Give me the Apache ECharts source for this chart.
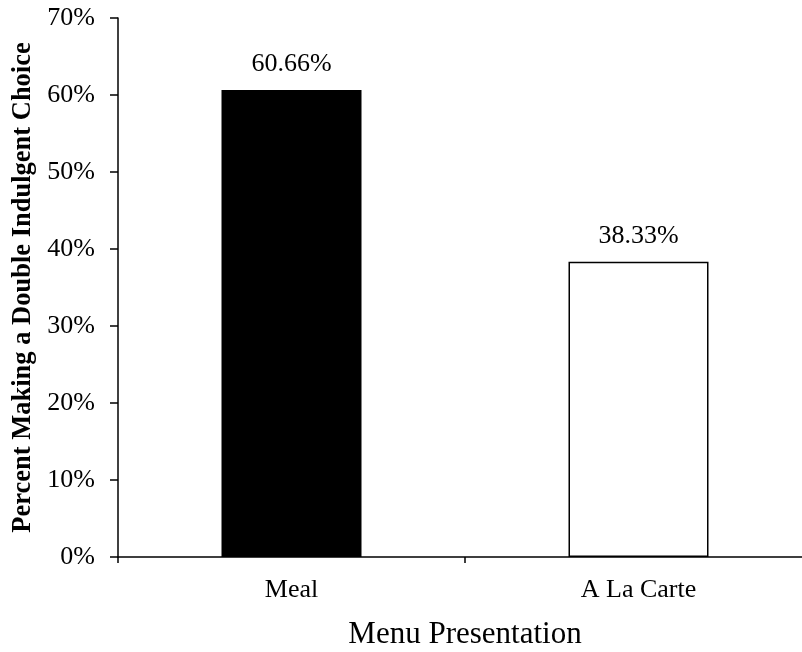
<!DOCTYPE html>
<html>
<head>
<meta charset="utf-8">
<script src="https://cdn.jsdelivr.net/npm/echarts@6/dist/echarts.min.js"></script>
<style>
  html, body { margin: 0; padding: 0; background: #fff; }
  #chart { width: 802px; height: 652px; }
</style>
</head>
<body>
<div id="chart"></div>
<script>
// data
const categories = ['Meal', 'A La Carte'];
const percents = [60.66, 38.33];
const barColors = ['#000000', '#ffffff'];
const yTicks = [0, 10, 20, 30, 40, 50, 60, 70];

const FONT = '"Liberation Serif", "Times New Roman", serif';

const chart = echarts.init(document.getElementById('chart'));

const option = {
  backgroundColor: '#fff',
  animation: false,
  grid: {
    left: 118, width: 694, top: 18, bottom: 95,
    containLabel: false, outerBoundsMode: 'none'
  },
  xAxis: {
    type: 'category',
    data: categories,
    name: 'Menu Presentation',
    nameLocation: 'middle',
    nameGap: 62,
    nameTextStyle: { fontFamily: FONT, fontSize: 31, color: '#000' },
    axisLine: { lineStyle: { color: '#000', width: 1.5 } },
    axisTick: { show: true, length: 6, lineStyle: { color: '#000', width: 1.5 } },
    axisLabel: { fontFamily: FONT, fontSize: 26, color: '#000', margin: 20 }
  },
  yAxis: {
    type: 'value',
    min: yTicks[0],
    max: yTicks[yTicks.length - 1],
    interval: 10,
    name: 'Percent Making a Double Indulgent Choice',
    nameLocation: 'middle',
    nameGap: 81,
    nameRotate: 90,
    nameTextStyle: { fontFamily: FONT, fontSize: 26.5, fontWeight: 'bold', color: '#000' },
    axisLine: { show: true, lineStyle: { color: '#000', width: 1.5 } },
    axisTick: { show: true, length: 8, lineStyle: { color: '#000', width: 1.5 } },
    splitLine: { show: false },
    axisLabel: { fontFamily: FONT, fontSize: 26, color: '#000', margin: 23, formatter: '{value}%' }
  },
  series: [{
    type: 'bar',
    barWidth: 140,
    data: percents.map((v, i) => ({
      value: v,
      itemStyle: { color: barColors[i], borderColor: '#000', borderWidth: 1.5 }
    })),
    label: {
      show: true,
      position: 'top',
      distance: 13,
      fontFamily: FONT,
      fontSize: 26,
      color: '#000',
      formatter: p => p.value.toFixed(2) + '%'
    }
  }]
};

chart.setOption(option);
</script>
</body>
</html>
